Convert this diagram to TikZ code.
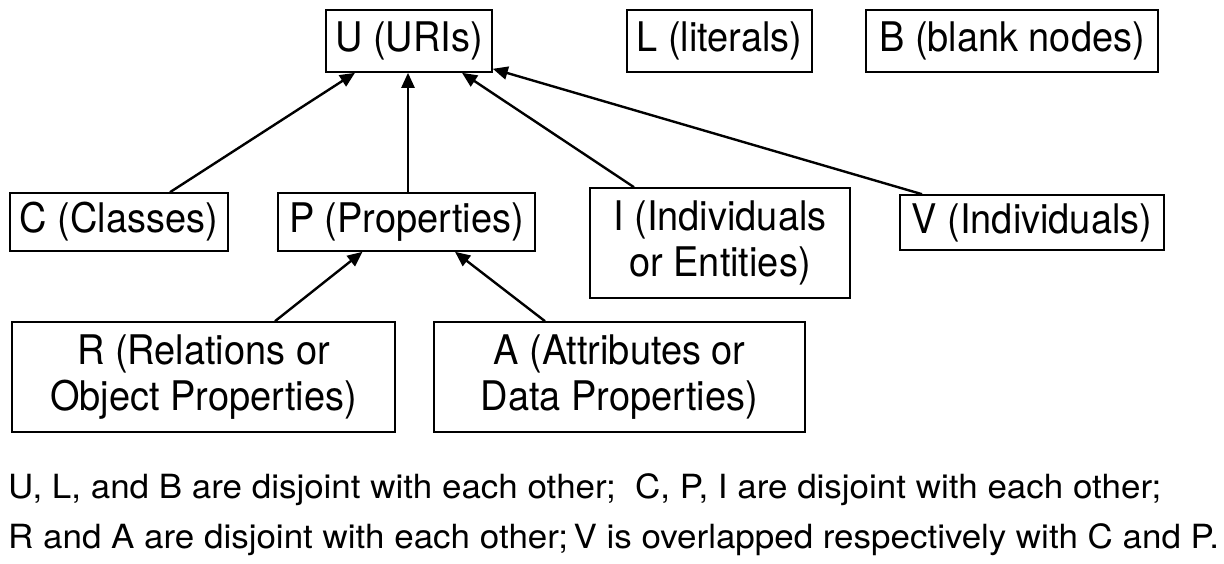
\documentclass[tikz,border=0pt]{standalone}
\usepackage{fontspec}
\setmainfont{TeX Gyre Heros}
\newfontfamily\boxfont[FakeStretch=0.93]{TeX Gyre Heros}
\newfontfamily\notefont[FakeStretch=1.05]{TeX Gyre Heros}
\usetikzlibrary{arrows.meta}
\begin{document}
\begin{tikzpicture}[x=1pt,y=-1pt,
 box/.style={draw,line width=1.6pt,inner sep=0pt,font=\boxfont\fontsize{40.8}{46}\selectfont,align=center},
 arr/.style={line width=2.4pt,-{Triangle[length=15pt,width=13pt]}},
 note/.style={anchor=west,inner sep=0pt,font=\notefont\fontsize{33.3}{40}\selectfont}]
\useasboundingbox (0,0) rectangle (1224,564);
\node[box,minimum width=166pt,minimum height=62pt] (U) at (409,41) {U (URIs)};
\node[box,minimum width=185pt,minimum height=62pt] (L) at (719.5,41) {L (literals)};
\node[box,minimum width=292pt,minimum height=62pt] (B) at (1012,41) {B (blank nodes)};
\node[box,minimum width=218pt,minimum height=58pt] (C) at (119,222) {C (Classes)};
\node[box,minimum width=257pt,minimum height=58pt] (P) at (406.5,222) {P (Properties)};
\node[box,minimum width=260pt,minimum height=110pt] (I) at (720,243) {I (Individuals\\or Entities)};
\node[box,minimum width=264pt,minimum height=55pt] (V) at (1032,222.5) {V (Individuals)};
\node[box,minimum width=383pt,minimum height=110pt] (R) at (203.5,377) {R (Relations or\\Object Properties)};
\node[box,minimum width=371pt,minimum height=110pt] (A) at (619.5,377) {A (Attributes or\\Data Properties)};
\draw[arr] ([xshift=51pt]C.north) -- ([xshift=-54pt]U.south);
\draw[arr] ([xshift=1.5pt]P.north) -- ([xshift=-1pt]U.south);
\draw[arr] ([xshift=-86pt]I.north) -- ([xshift=53pt]U.south);
\draw[arr] ([xshift=-110pt]V.north) -- ([yshift=4pt]U.south east);
\draw[arr] ([xshift=71.5pt]R.north) -- ([xshift=-44pt]P.south);
\draw[arr] ([xshift=-74.5pt]A.north) -- ([xshift=48.5pt]P.south);
\node[note] (t1) at (8,490) {U, L, and B are disjoint with each other;\ \ C, P, I are disjoint with each other;};
\node[note] (t2) at (8,540) {R and A are disjoint with each other;\,V is overlapped respectively with C and P.};
\end{tikzpicture}
\end{document}
